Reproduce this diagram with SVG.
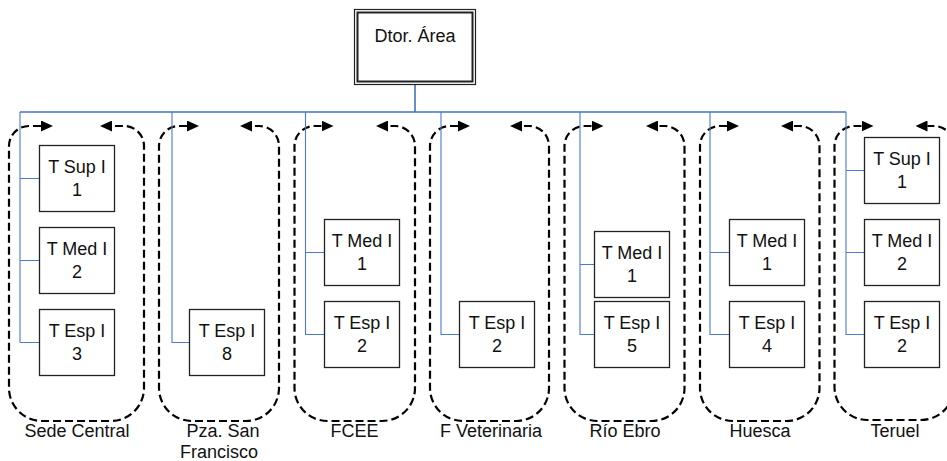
<svg xmlns="http://www.w3.org/2000/svg" width="947" height="461" viewBox="0 0 947 461">
<style>
text{font-family:"Liberation Sans",Arial,sans-serif;font-size:18px;fill:#111;text-anchor:middle}
.box{fill:#fff;stroke:#222;stroke-width:1.3}
.bus{fill:none;stroke:#4472C4;stroke-width:1.6}
.br{fill:none;stroke:#4a7bd0;stroke-width:1.1}
.loop{fill:none;stroke:#000;stroke-width:2.2;stroke-dasharray:8 4;marker-start:url(#ah);marker-end:url(#ah)}
</style>
<defs>
<marker id="ah" markerUnits="userSpaceOnUse" markerWidth="12" markerHeight="11" refX="0" refY="5.5" orient="auto-start-reverse" viewBox="0 0 12 11">
<path d="M0,0 L12,5.5 L0,11 z" fill="#000"/>
</marker>
</defs>
<rect width="947" height="461" fill="#fff"/>

<g id="loops">
<path class="loop" d="M41,126 H29 A20 20 0 0 0 9,146 V388 A33 33 0 0 0 42,421 H111 A33 33 0 0 0 144,388 V146 A20 20 0 0 0 124,126 H112"/>
<path class="loop" d="M187,126 H179 A20 20 0 0 0 159,146 V388 A33 33 0 0 0 192,421 H246 A33 33 0 0 0 279,388 V146 A20 20 0 0 0 259,126 H252"/>
<path class="loop" d="M321.5,126 H314.5 A20 20 0 0 0 294.5,146 V388 A33 33 0 0 0 327.5,421 H382 A33 33 0 0 0 415,388 V146 A20 20 0 0 0 395,126 H388"/>
<path class="loop" d="M458,126 H450 A20 20 0 0 0 430,146 V388 A33 33 0 0 0 463,421 H516 A33 33 0 0 0 549,388 V146 A20 20 0 0 0 529,126 H522"/>
<path class="loop" d="M591.5,126 H584.5 A20 20 0 0 0 564.5,146 V388 A33 33 0 0 0 597.5,421 H651.5 A33 33 0 0 0 684.5,388 V146 A20 20 0 0 0 664.5,126 H658"/>
<path class="loop" d="M727,126 H720 A20 20 0 0 0 700,146 V388 A33 33 0 0 0 733,421 H786.5 A33 33 0 0 0 819.5,388 V146 A20 20 0 0 0 799.5,126 H793"/>
<path class="loop" d="M861.5,126 H854.5 A20 20 0 0 0 834.5,146 V387 A33 33 0 0 0 867.5,420 H921 A33 33 0 0 0 954,387 V146 A20 20 0 0 0 934,126 H927.5"/>
</g>

<g id="connectors">
<path class="bus" d="M415,84 V112 M20,112 H846"/>
<path class="br" d="M20,112 V342.5 M20,178.5 H39.5 M20,260.5 H39.5 M20,342.5 H39.5"/>
<path class="br" d="M172,112 V342.5 H189.5"/>
<path class="br" d="M305.5,112 V334.5 H324.5 M305.5,252.5 H324.5"/>
<path class="br" d="M441,112 V334.5 H459.5"/>
<path class="br" d="M580,112 V334.5 H594.5 M580,264.5 H594.5"/>
<path class="br" d="M710,112 V334.5 H729.5 M710,252.5 H729.5"/>
<path class="br" d="M846,112 V334.5 H864.5 M846,170.5 H864.5 M846,252.5 H864.5"/>
</g>

<g id="dtor">
<rect x="354.5" y="9.5" width="121" height="75" fill="#fff" stroke="#222" stroke-width="1.2"/>
<rect x="357.5" y="12.5" width="115" height="69" fill="none" stroke="#222" stroke-width="2"/>
<text x="415" y="42">Dtor. Área</text>
</g>

<g id="sc1"><rect class="box" x="39.5" y="145.5" width="75" height="66"/><text x="77" y="173">T Sup I</text><text x="77" y="196">1</text></g>
<g id="sc2"><rect class="box" x="39.5" y="227.5" width="75" height="66"/><text x="77" y="255">T Med I</text><text x="77" y="278">2</text></g>
<g id="sc3"><rect class="box" x="39.5" y="309.5" width="75" height="66"/><text x="77" y="337">T Esp I</text><text x="77" y="360">3</text></g>

<g id="psf1"><rect class="box" x="189.5" y="309.5" width="75" height="66"/><text x="227" y="337">T Esp I</text><text x="227" y="360">8</text></g>

<g id="fcee1"><rect class="box" x="324.5" y="219.5" width="75" height="66"/><text x="362" y="247">T Med I</text><text x="362" y="270">1</text></g>
<g id="fcee2"><rect class="box" x="324.5" y="301.5" width="75" height="66"/><text x="362" y="329">T Esp I</text><text x="362" y="352">2</text></g>

<g id="fvet1"><rect class="box" x="459.5" y="301.5" width="75" height="66"/><text x="497" y="329">T Esp I</text><text x="497" y="352">2</text></g>

<g id="re1"><rect class="box" x="594.5" y="231.5" width="75" height="66"/><text x="632" y="258.5">T Med I</text><text x="632" y="281.5">1</text></g>
<g id="re2"><rect class="box" x="594.5" y="301.5" width="75" height="66"/><text x="632" y="329">T Esp I</text><text x="632" y="352">5</text></g>

<g id="hu1"><rect class="box" x="729.5" y="219.5" width="75" height="66"/><text x="767" y="247">T Med I</text><text x="767" y="270">1</text></g>
<g id="hu2"><rect class="box" x="729.5" y="301.5" width="75" height="66"/><text x="767" y="329">T Esp I</text><text x="767" y="352">4</text></g>

<g id="te1"><rect class="box" x="864.5" y="137.5" width="75" height="66"/><text x="902" y="165">T Sup I</text><text x="902" y="188">1</text></g>
<g id="te2"><rect class="box" x="864.5" y="219.5" width="75" height="66"/><text x="902" y="247">T Med I</text><text x="902" y="270">2</text></g>
<g id="te3"><rect class="box" x="864.5" y="301.5" width="75" height="66"/><text x="902" y="329">T Esp I</text><text x="902" y="352">2</text></g>

<g id="labels">
<text x="77" y="436.5">Sede Central</text>
<text x="223" y="436.5">Pza. San</text>
<text x="219" y="458">Francisco</text>
<text x="354.5" y="436.5">FCEE</text>
<text x="491" y="436.5">F Veterinaria</text>
<text x="625" y="436.5">Río Ebro</text>
<text x="760" y="436.5">Huesca</text>
<text x="895" y="436.5">Teruel</text>
</g>
</svg>
